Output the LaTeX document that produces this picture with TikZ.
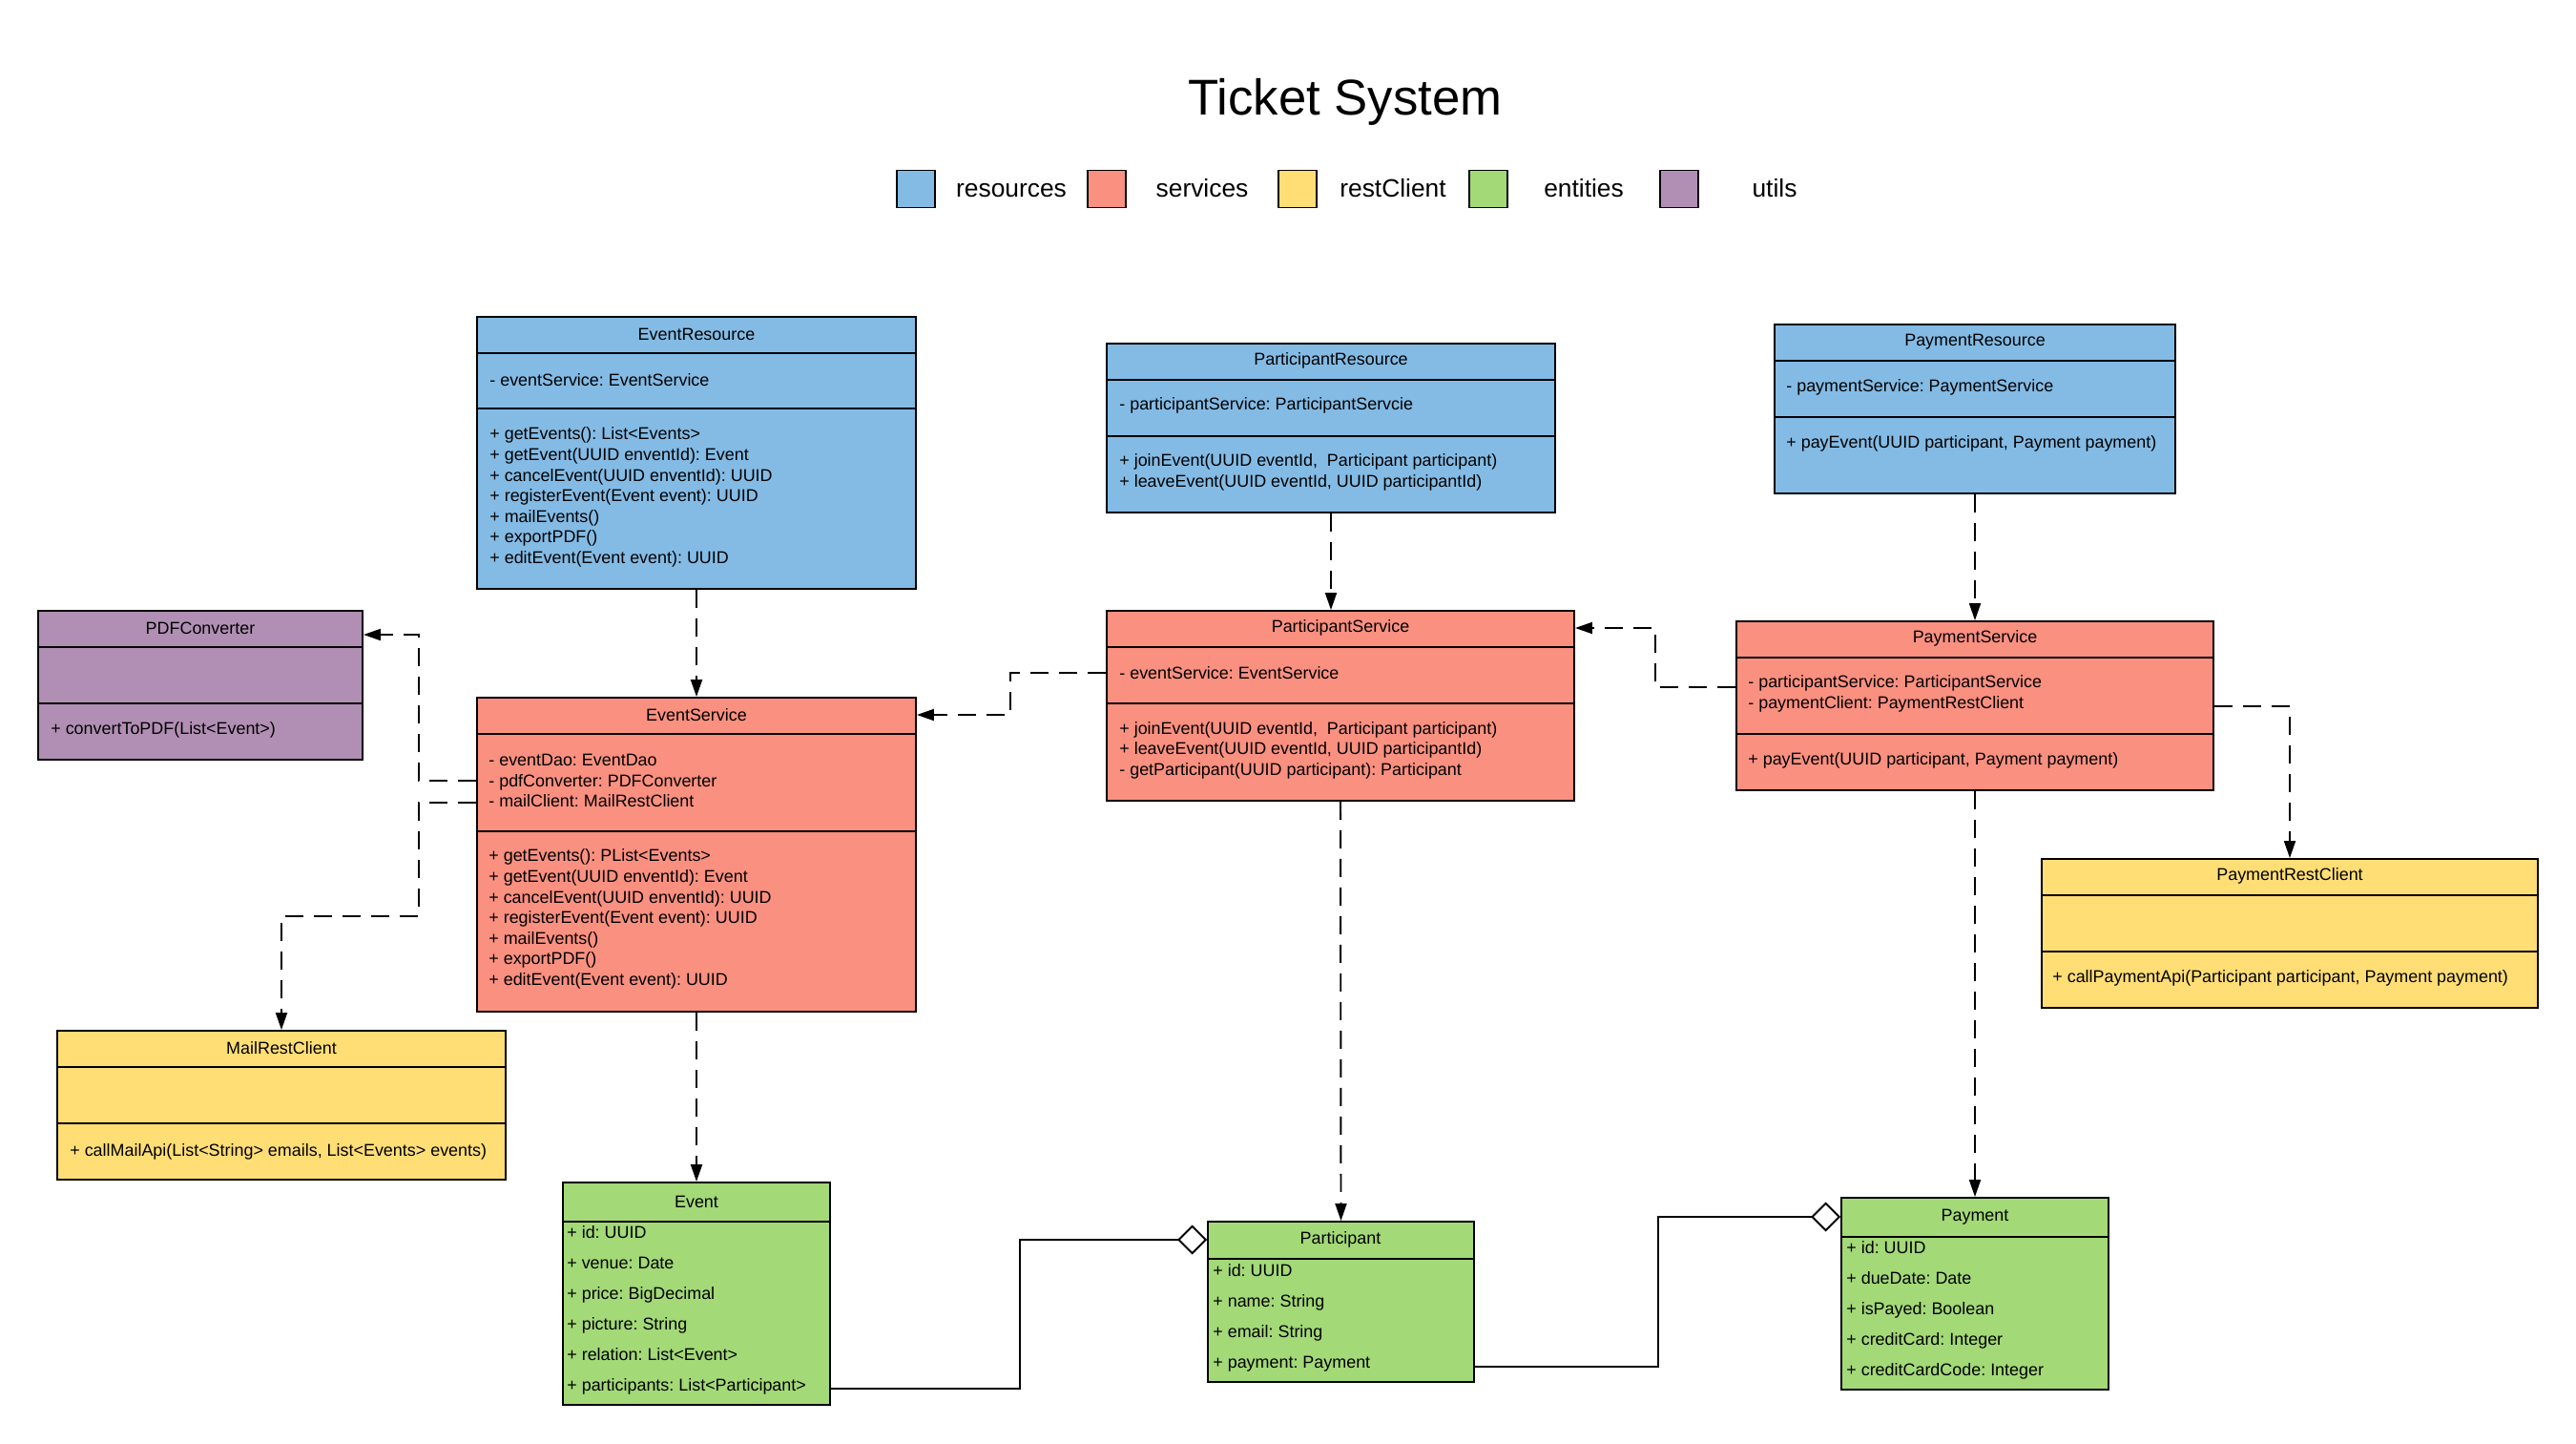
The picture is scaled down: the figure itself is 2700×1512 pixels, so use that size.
\documentclass[tikz,border=0pt]{standalone}
\usepackage{fontspec}
\setmainfont{Liberation Sans}
\usetikzlibrary{arrows.meta,calc,fit}
\frenchspacing

\definecolor{resources}{RGB}{131,187,229}
\definecolor{services}{RGB}{250,144,128}
\definecolor{restclient}{RGB}{255,222,117}
\definecolor{entities}{RGB}{163,217,119}
\definecolor{utils}{RGB}{177,143,180}

\tikzset{
  cls/.style={draw, line width=1.1pt, inner sep=0pt},
  divider/.style={line width=1.1pt},
  hdr/.style={inner sep=0pt, font=\fontsize{10.2}{12.3}\selectfont},
  rowtxt/.style={anchor=west, align=left, inner sep=0pt, font=\fontsize{10.2}{12.3}\selectfont},
  fieldtxt/.style={anchor=west, align=left, inner sep=0pt, font=\fontsize{10.2}{18.2}\selectfont},
  keybox/.style={draw, line width=1.1pt, minimum width=0.8cm, minimum height=0.78cm, inner sep=0pt},
  keytxt/.style={anchor=base, inner sep=0pt, font=\fontsize{15}{18}\selectfont},
  dep/.style={line width=1.1pt, dash pattern=on 0.38cm off 0.22cm, -{Triangle[length=0.36cm, width=0.24cm]}},
  agg/.style={line width=1.1pt, -{Diamond[open, length=0.62cm, width=0.62cm]}},
}

\begin{document}
\begin{tikzpicture}[x=0.02cm, y=-0.02cm]
	\fill[white] (0,0) rectangle (2700,1512);
	\useasboundingbox (0,0) rectangle (2700,1512);
	%\draw[help lines] (0,0) grid (2700,1512);

	\node[anchor=base, font=\fontsize{30}{36}\selectfont] (title) at (1410,120) {Ticket System};

	% legend
	\node[keybox, fill=resources] (keyres) at (960,198) {};
	\node[keytxt] (keyrestxt) at (1060,206) {resources};
	\node[keybox, fill=services] (keysrv) at (1160,198) {};
	\node[keytxt] (keysrvtxt) at (1260,206) {services};
	\node[keybox, fill=restclient] (keycl) at (1360,198) {};
	\node[keytxt] (keycltxt) at (1460,206) {restClient};
	\node[keybox, fill=entities] (keyent) at (1560,198) {};
	\node[keytxt] (keyenttxt) at (1660,206) {entities};
	\node[keybox, fill=utils] (keyutl) at (1760,198) {};
	\node[keytxt] (keyutltxt) at (1860,206) {utils};

	% resources
	\node[cls, fill=resources, fit={(500,332) (960,617)}] (evres) {};
	\draw[divider] (500,370) -- (960,370) (500,428) -- (960,428);
	\node[hdr] (evreshdr) at (730,350) {EventResource};
	\node[rowtxt] (evresattr) at (513,398) {- eventService: EventService};
	\node[rowtxt] (evresops) at (513,521) {+ getEvents(): List<Events>\\+ getEvent(UUID enventId): Event\\+ cancelEvent(UUID enventId): UUID\\+ registerEvent(Event event): UUID\\+ mailEvents()\\+ exportPDF()\\+ editEvent(Event event): UUID};

	\node[cls, fill=resources, fit={(1160,360) (1630,537)}] (partres) {};
	\draw[divider] (1160,398) -- (1630,398) (1160,457) -- (1630,457);
	\node[hdr] (partreshdr) at (1395,378) {ParticipantResource};
	\node[rowtxt] (partresattr) at (1173,425) {- participantService: ParticipantServcie};
	\node[rowtxt] (partresops) at (1173,495) {+ joinEvent(UUID eventId, \ Participant participant)\\+ leaveEvent(UUID eventId, UUID participantId)};

	\node[cls, fill=resources, fit={(1860,340) (2280,517)}] (payres) {};
	\draw[divider] (1860,378) -- (2280,378) (1860,437) -- (2280,437);
	\node[hdr] (payreshdr) at (2070,358) {PaymentResource};
	\node[rowtxt] (payresattr) at (1872,406) {- paymentService: PaymentService};
	\node[rowtxt] (payresops) at (1872,465) {+ payEvent(UUID participant, Payment payment)};

	% services
	\node[cls, fill=services, fit={(500,731) (960,1060)}] (evsrv) {};
	\draw[divider] (500,769) -- (960,769) (500,871) -- (960,871);
	\node[hdr] (evsrvhdr) at (730,749) {EventService};
	\node[rowtxt] (evsrvattr) at (512,818) {- eventDao: EventDao\\- pdfConverter: PDFConverter\\- mailClient: MailRestClient};
	\node[rowtxt] (evsrvops) at (512,963) {+ getEvents(): PList<Events>\\+ getEvent(UUID enventId): Event\\+ cancelEvent(UUID enventId): UUID\\+ registerEvent(Event event): UUID\\+ mailEvents()\\+ exportPDF()\\+ editEvent(Event event): UUID};

	\node[cls, fill=services, fit={(1160,640) (1650,839)}] (partsrv) {};
	\draw[divider] (1160,678) -- (1650,678) (1160,737) -- (1650,737);
	\node[hdr] (partsrvhdr) at (1405,658) {ParticipantService};
	\node[rowtxt] (partsrvattr) at (1173,705) {- eventService: EventService};
	\node[rowtxt] (partsrvops) at (1173,786) {+ joinEvent(UUID eventId, \ Participant participant)\\+ leaveEvent(UUID eventId, UUID participantId)\\- getParticipant(UUID participant): Participant};

	\node[cls, fill=services, fit={(1820,651) (2320,828)}] (paysrv) {};
	\draw[divider] (1820,689) -- (2320,689) (1820,769) -- (2320,769);
	\node[hdr] (paysrvhdr) at (2070,669) {PaymentService};
	\node[rowtxt] (paysrvattr) at (1832,727) {- participantService: ParticipantService\\- paymentClient: PaymentRestClient};
	\node[rowtxt] (paysrvops) at (1832,797) {+ payEvent(UUID participant, Payment payment)};

	% utils and rest clients
	\node[cls, fill=utils, fit={(40,640) (380,796)}] (pdfconv) {};
	\draw[divider] (40,678) -- (380,678) (40,737) -- (380,737);
	\node[hdr] (pdfconvhdr) at (210,658) {PDFConverter};
	\node[rowtxt] (pdfconvops) at (53,765) {+ convertToPDF(List<Event>)};

	\node[cls, fill=restclient, fit={(60,1080) (530,1236)}] (mailcl) {};
	\draw[divider] (60,1118) -- (530,1118) (60,1177) -- (530,1177);
	\node[hdr] (mailclhdr) at (295,1098) {MailRestClient};
	\node[rowtxt] (mailclops) at (73,1207) {+ callMailApi(List<String> emails, List<Events> events)};

	\node[cls, fill=restclient, fit={(2140,900) (2660,1056)}] (paycl) {};
	\draw[divider] (2140,938) -- (2660,938) (2140,997) -- (2660,997);
	\node[hdr] (payclhdr) at (2400,918) {PaymentRestClient};
	\node[rowtxt] (payclops) at (2151,1025) {+ callPaymentApi(Participant participant, Payment payment)};

	% entities
	\node[cls, fill=entities, fit={(590,1239) (870,1472)}] (event) {};
	\draw[divider] (590,1280) -- (870,1280);
	\node[hdr] (eventhdr) at (730,1259) {Event};
	\node[fieldtxt] (evattr) at (594,1373) {+ id: UUID\\+ venue: Date\\+ price: BigDecimal\\+ picture: String\\+ relation: List<Event>\\+ participants: List<Participant>};

	\node[cls, fill=entities, fit={(1266,1280) (1545,1448)}] (participant) {};
	\draw[divider] (1266,1319) -- (1545,1319);
	\node[hdr] (parthdr) at (1405,1299) {Participant};
	\node[fieldtxt] (partattr) at (1271,1381) {+ id: UUID\\+ name: String\\+ email: String\\+ payment: Payment};

	\node[cls, fill=entities, fit={(1930,1255) (2210,1456)}] (payment) {};
	\draw[divider] (1930,1296) -- (2210,1296);
	\node[hdr] (payhdr) at (2070,1275) {Payment};
	\node[fieldtxt] (payattr) at (1935,1373) {+ id: UUID\\+ dueDate: Date\\+ isPayed: Boolean\\+ creditCard: Integer\\+ creditCardCode: Integer};

	% dependencies
	\draw[dep] (evres.south) -- (evsrv.north);
	\draw[dep] (partres.south) -- (partres.south |- partsrv.north);
	\draw[dep] (payres.south) -- (paysrv.north);
	\draw[dep] (evsrv.south) -- (event.north);
	\draw[dep] (partsrv.south) -- (participant.north);
	\draw[dep] (paysrv.south) -- (payment.north);
	\draw[dep] (partsrv.west |- partsrvattr.center) -- ++(-100,0) |- (evsrv.east |- evsrvhdr.center);
	\draw[dep] ($(paysrv.west |- paysrvattr.center)+(0,-7)$) -- ++(-84,0) |- (partsrv.east |- partsrvhdr.center);
	\draw[dep] ($(paysrv.east |- paysrvattr.center)+(0,13)$) -| (paycl.north);
	\draw[dep] (evsrv.west |- evsrvattr.center) -- ++(-60,0) |- ($(pdfconv.east |- pdfconvhdr.center)+(0,7)$);
	\draw[dep] ($(evsrv.west |- evsrvattr.center)+(0,23)$) -- ++(-60,0) -- ++(0,119) -| (mailcl.north);

	% aggregations
	\draw[agg] ($(event.east |- evattr.center)+(0,82)$) -- ++(198,0) |- (participant.west |- parthdr.center);
	\draw[agg] ($(participant.east |- partattr.center)+(0,51)$) -- ++(192,0) |- (payment.west |- payhdr.center);
\end{tikzpicture}
\end{document}
